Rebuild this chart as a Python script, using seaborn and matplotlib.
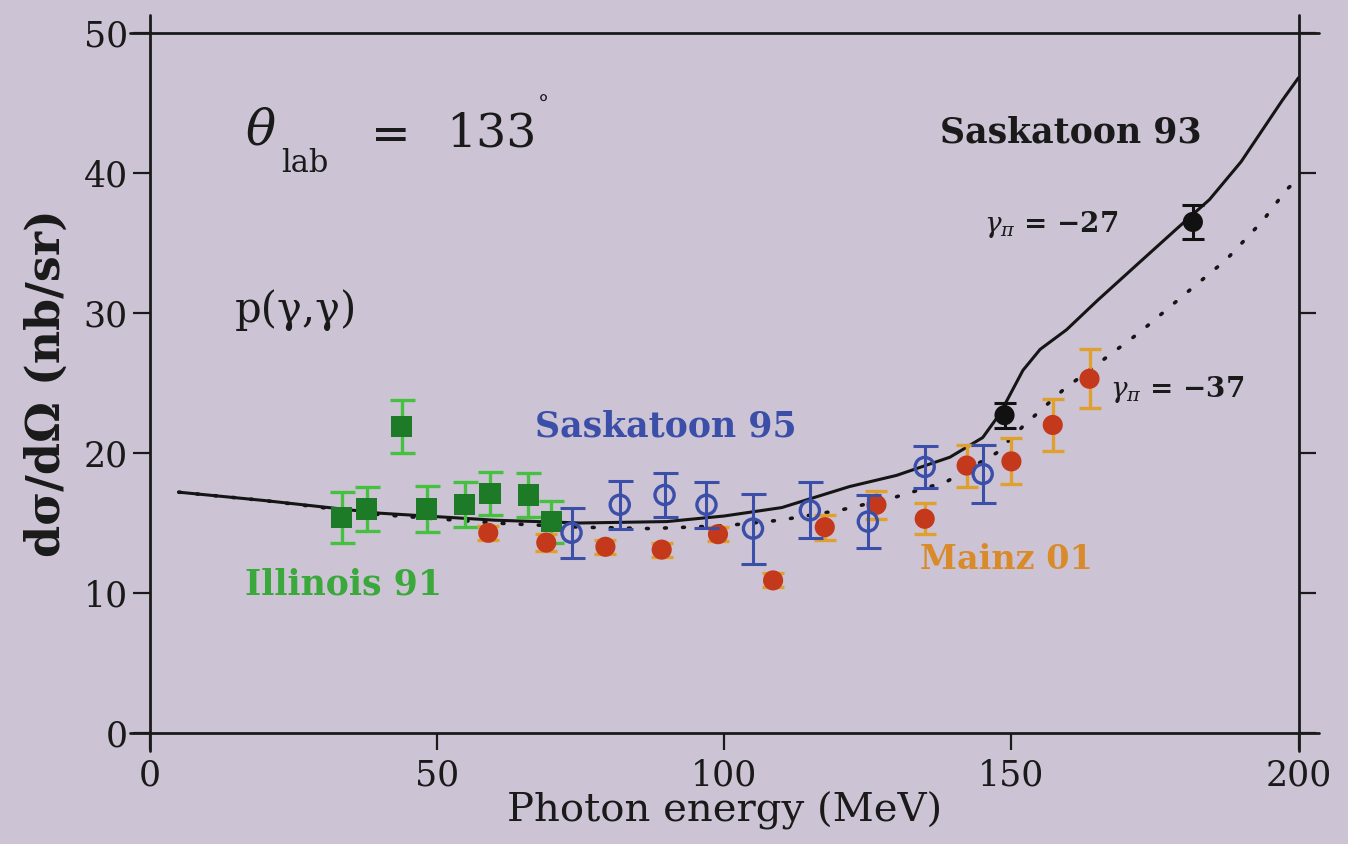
import numpy as np
import pandas as pd
import matplotlib
matplotlib.use("Agg")
import matplotlib.pyplot as plt
import seaborn as sns

# Data
illinois_e = [33.4, 37.7, 43.8, 48.2, 54.8, 59.2, 65.9, 69.9]
illinois_xs = [15.4, 16.0, 21.9, 16.0, 16.3, 17.1, 17.0, 15.1]
illinois_err = [1.8, 1.6, 1.9, 1.65, 1.6, 1.55, 1.55, 1.5]

mainz_e = [58.9, 69.0, 79.3, 89.1, 98.9, 108.5, 117.5, 126.5, 134.9, 142.2, 150.0, 157.2, 163.6]
mainz_xs = [14.3, 13.6, 13.3, 13.1, 14.2, 10.9, 14.7, 16.3, 15.3, 19.1, 19.4, 22.0, 25.3]
mainz_err = [0.5, 0.6, 0.5, 0.5, 0.5, 0.5, 0.9, 1.0, 1.1, 1.5, 1.65, 1.85, 2.1]

sask95_e = [73.4, 81.8, 89.6, 96.9, 105.0, 114.9, 125.0, 134.9, 145.0]
sask95_xs = [14.3, 16.3, 17.0, 16.3, 14.6, 15.9, 15.1, 19.0, 18.5]
sask95_err = [1.8, 1.7, 1.6, 1.65, 2.5, 2.0, 1.9, 1.5, 2.1]

sask93_e = [148.8, 181.6]
sask93_xs = [22.7, 36.5]
sask93_err = [0.9, 1.2]

# theory curves, gamma_pi = -27 (solid) and -37 (dotted)
curve27_e = [5, 20, 40, 60, 75, 90, 100, 110, 121.8, 130, 139.3, 145, 148, 152, 155, 159.6,
             165, 172, 179.3, 184.5, 190, 197.2, 200]
curve27_xs = [17.2, 16.6, 15.7, 15.2, 15.0, 15.1, 15.5, 16.1, 17.6, 18.4, 19.7, 21.1, 22.8,
              25.9, 27.4, 28.8, 30.9, 33.5, 36.2, 38.1, 40.8, 45.2, 46.8]
curve37_e = [5, 20, 40, 60, 75, 87, 100, 109.7, 120, 129.4, 138.7, 147.4, 152, 159, 167.1,
             172.3, 179.8, 187.4, 193.8, 197.9, 200]
curve37_xs = [17.2, 16.6, 15.6, 15.0, 14.7, 14.6, 14.8, 15.2, 15.9, 16.8, 17.95, 20.0, 21.9,
              24.5, 27.0, 28.6, 31.2, 33.8, 36.6, 38.8, 39.6]

bg = "#ccc4d4"
ink = "#1a1a1a"
sns.set_theme(style="ticks")
plt.rcParams["font.family"] = ["DejaVu Serif", "DejaVu Sans"]
plt.rcParams["mathtext.fontset"] = "dejavuserif"

fig = plt.figure(figsize=(13.48, 8.44), dpi=100, facecolor=bg)
ax = fig.add_axes([0.1113, 0.1315, 0.852, 0.8295], facecolor=bg)

c27 = pd.DataFrame({"E": curve27_e, "xs": curve27_xs})
c37 = pd.DataFrame({"E": curve37_e, "xs": curve37_xs})
sns.lineplot(data=c27, x="E", y="xs", color="#151515", lw=2.2, ax=ax, zorder=2)
sns.lineplot(data=c37, x="E", y="xs", color="#151515", lw=2.6, ax=ax, zorder=2,
             linestyle=(0, (0.5, 4.5)), dash_capstyle="round")

# Illinois 91
ax.errorbar(illinois_e, illinois_xs, yerr=illinois_err, fmt="none", ecolor="#45c040",
            elinewidth=2.4, capsize=9, capthick=2.4, zorder=3)
sns.scatterplot(x=illinois_e, y=illinois_xs, marker="s", s=230, color="#1d7a26",
                edgecolor="none", ax=ax, zorder=4)

# Mainz 01
ax.errorbar(mainz_e, mainz_xs, yerr=mainz_err, fmt="none", ecolor="#e0a030",
            elinewidth=2.4, capsize=8, capthick=2.4, zorder=3)
sns.scatterplot(x=mainz_e, y=mainz_xs, marker="o", s=210, color="#c4381c",
                edgecolor="none", ax=ax, zorder=4)

# Saskatoon 95
ax.errorbar(sask95_e, sask95_xs, yerr=sask95_err, fmt="none", ecolor="#3b4fa8",
            elinewidth=2.2, capsize=9, capthick=2.2, zorder=5)
sns.scatterplot(x=sask95_e, y=sask95_xs, marker="o", s=190, facecolor="none",
                edgecolor="#3b4fa8", linewidth=2.4, ax=ax, zorder=6)

# Saskatoon 93
ax.errorbar(sask93_e, sask93_xs, yerr=sask93_err, fmt="none", ecolor="#111111",
            elinewidth=2.2, capsize=8, capthick=2.2, zorder=5)
sns.scatterplot(x=sask93_e, y=sask93_xs, marker="o", s=210, color="#111111",
                edgecolor="none", ax=ax, zorder=6)

ax.set_xlim(0, 200)
ax.set_ylim(0, 50)
ax.set_xticks([0, 50, 100, 150, 200])
ax.set_yticks([0, 10, 20, 30, 40, 50])

# frame drawn as lines overshooting the corners
for s in ax.spines.values():
    s.set_visible(False)
lk = dict(color=ink, lw=2.0, transform=ax.transAxes, clip_on=False, zorder=7)
ax.plot([-0.0175, 1.0175], [1, 1], **lk)
ax.plot([-0.0175, 1.0175], [0, 0], **lk)
ax.plot([0, 0], [-0.025, 1.026], **lk)
ax.plot([1, 1], [-0.025, 1.026], **lk)

ax.tick_params(axis="both", direction="out", length=12, width=1.6, color=ink,
               labelsize=25, labelcolor=ink, pad=4)
ax.tick_params(axis="x", pad=6)
ax.tick_params(axis="y", right=True, labelright=False)

ax.set_xlabel("Photon energy (MeV)", fontsize=29, color=ink, labelpad=0)
ax.set_ylabel("dσ/dΩ (nb/sr)", fontsize=33, weight="bold", color=ink, labelpad=10)

# annotations
tk = dict(ha="left", va="center", weight="bold")
ax.text(137.5, 42.9, "Saskatoon 93", color=ink, fontsize=25, **tk)
ax.text(67.0, 21.9, "Saskatoon 95", color="#3b4fa8", fontsize=25, **tk)
ax.text(16.5, 10.6, "Illinois 91", color="#3aa83a", fontsize=25, **tk)
ax.text(134.0, 12.4, "Mainz 01", color="#d98a2b", fontsize=24, **tk)
ax.text(145.3, 36.3, r"$\gamma_\pi$ = −27", color=ink, fontsize=20, **tk)
ax.text(167.1, 24.5, r"$\gamma_\pi$ = −37", color=ink, fontsize=20, **tk)
ax.text(14.8, 30.2, "p(γ,γ)", color=ink, fontsize=30, ha="left", va="center")

ax.text(16.5, 43.0, "θ", style="italic", color=ink, fontsize=36, ha="left", va="center")
ax.text(22.8, 40.7, "lab", color=ink, fontsize=22, ha="left", va="center")
ax.text(38.5, 42.6, "=", color=ink, fontsize=34, ha="left", va="center")
ax.text(51.5, 42.8, "133", color=ink, fontsize=34, ha="left", va="center")
ax.text(67.6, 44.8, "°", color=ink, fontsize=16, ha="left", va="center")

fig.savefig("out.png", dpi=100, facecolor=bg)
